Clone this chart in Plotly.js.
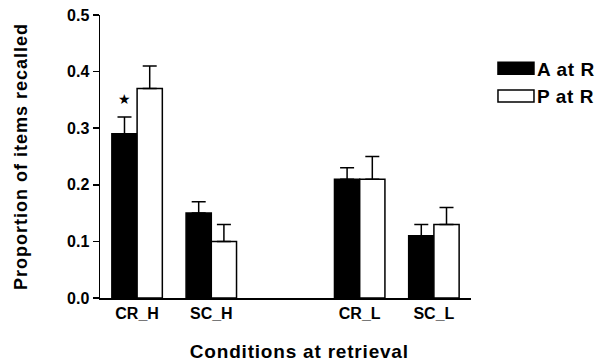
<!DOCTYPE html>
<html>
<head>
<meta charset="utf-8">
<script src="https://cdn.plot.ly/plotly-3.0.1.min.js"></script>
<style>
html,body{margin:0;padding:0;background:#fff;}
#chart{width:600px;height:363px;}
#chart .ytitle{letter-spacing:1.0px;}
#chart .legendtext{letter-spacing:0.6px;}
#chart .annotation-text{letter-spacing:0.8px;}
#chart .legendpoints path{transform:translate(19px,0px) scaleX(3);vector-effect:non-scaling-stroke;}
</style>
</head>
<body>
<div id="chart"></div>
<script>
// Categories (blank ' ' slot is the gap between H and L groups)
var categories = ['CR_H', 'SC_H', ' ', 'CR_L', 'SC_L'];
var seriesNames = ['A at R', 'P at R'];
var aValues = [0.29, 0.15, null, 0.21, 0.11];
var aErrors = [0.03, 0.02, null, 0.02, 0.02];
var pValues = [0.37, 0.10, null, 0.21, 0.13];
var pErrors = [0.04, 0.03, null, 0.04, 0.03];
var yTickVals = [0, 0.1, 0.2, 0.3, 0.4, 0.5];
var xTitle = 'Conditions at retrieval';
var yTitle = 'Proportion of items recalled';

var font = 'Liberation Sans, Arial, Helvetica, sans-serif';

function zeros(arr){ return arr.map(function(v){ return v === null ? null : 0; }); }

var traceA = {
  type: 'bar', name: seriesNames[0], legendgroup: 'a', x: categories, y: aValues,
  marker: {color: '#000', line: {color: '#000', width: 1.5}},
  error_y: {type: 'data', symmetric: false, array: aErrors, arrayminus: zeros(aErrors),
            color: '#000', thickness: 1.5, width: 7}
};
var traceP = {
  type: 'bar', name: seriesNames[1], legendgroup: 'p', x: categories, y: pValues,
  marker: {color: '#fff', line: {color: '#000', width: 1.5}},
  error_y: {type: 'data', symmetric: false, array: pErrors, arrayminus: zeros(pErrors),
            color: '#000', thickness: 1.5, width: 7}
};

var layout = {
  width: 600, height: 363,
  margin: {l: 100, r: 129, t: 15, b: 65},
  paper_bgcolor: '#fff', plot_bgcolor: '#fff',
  barmode: 'group', bargap: 0.32, bargroupgap: 0,
  showlegend: true,
  legend: {xref: 'container', yref: 'container', x: 0.8283, y: 0.864,
           xanchor: 'left', yanchor: 'top',
           font: {family: font, size: 19, color: '#000', weight: 'bold'},
           tracegroupgap: 0, bgcolor: 'rgba(0,0,0,0)'},
  xaxis: {
    type: 'category', categoryorder: 'array', categoryarray: categories,
    showline: true, linecolor: '#000', linewidth: 1.5,
    ticks: '', showgrid: false, zeroline: false,
    tickfont: {family: font, size: 16, color: '#000', weight: 'bold'}
  },
  yaxis: {
    range: [0, 0.5], tickvals: yTickVals, tickformat: '.1f',
    showline: true, linecolor: '#000', linewidth: 1.5,
    ticks: 'outside', ticklen: 6, tickwidth: 1.5, tickcolor: '#000',
    showgrid: false, zeroline: false,
    tickfont: {family: font, size: 16, color: '#000', weight: 'bold'},
    title: {text: yTitle, standoff: 34,
            font: {family: font, size: 18, color: '#000', weight: 'bold'}}
  },
  annotations: [{
    x: categories[0], y: 0.353, xref: 'x', yref: 'y', xshift: -12.5,
    text: '★', showarrow: false, font: {size: 14, color: '#000'}
  }, {
    x: 0.539, y: -0.19, xref: 'paper', yref: 'paper', xanchor: 'center', yanchor: 'middle',
    text: xTitle, showarrow: false,
    font: {family: font, size: 19, color: '#000', weight: 'bold'}
  }]
};

Plotly.newPlot('chart', [traceA, traceP], layout, {displayModeBar: false, staticPlot: true});
</script>
</body>
</html>
